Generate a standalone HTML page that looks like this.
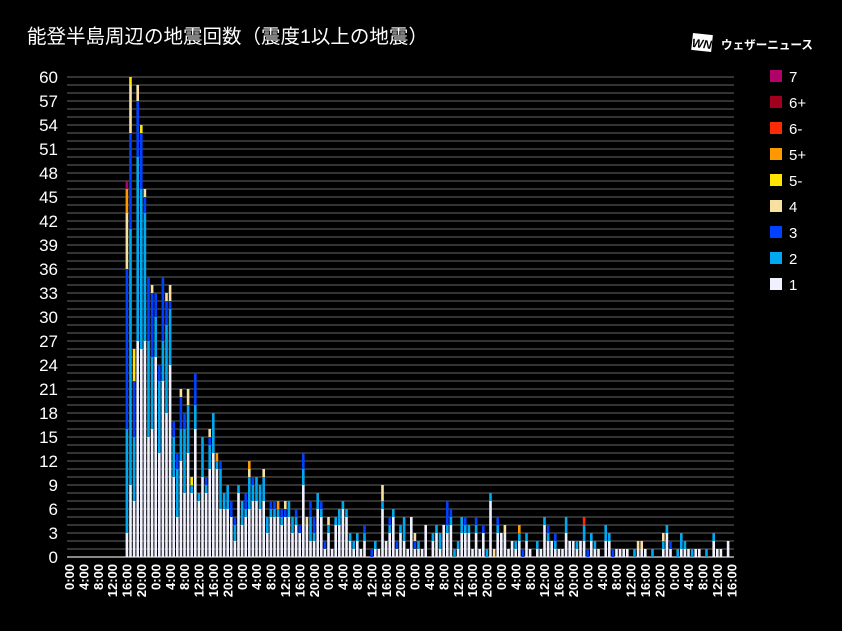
<!DOCTYPE html>
<html><head><meta charset="utf-8"><style>
html,body{margin:0;padding:0;background:#000;}
body{width:842px;height:631px;overflow:hidden;}
svg{display:block;}
</style></head><body>
<svg id="c" width="842" height="631" xmlns="http://www.w3.org/2000/svg" font-family="Liberation Sans, Noto Sans CJK JP, sans-serif">
<rect width="842" height="631" fill="#000"/>
<text x="27" y="43" fill="#fff" font-size="19.5" font-family="Liberation Sans, Noto Sans CJK JP, sans-serif">能登半島周辺の地震回数（震度1以上の地震）</text>
<g transform="translate(693,33) rotate(6)">
<rect x="0" y="0" width="20" height="17" fill="#fff"/>
<text x="10" y="14" fill="#000" font-size="12" font-weight="bold" font-style="italic" text-anchor="middle">WN</text>
</g>
<text x="721" y="49" fill="#fff" font-size="12" font-weight="bold" textLength="92" lengthAdjust="spacingAndGlyphs" font-family="Liberation Sans, Noto Sans CJK JP, sans-serif">ウェザーニュース</text>
<g id="grid"></g>
<g id="bars"></g>
<g id="ylab" fill="#fff" font-size="17" text-anchor="end"></g>
<g id="xlab" fill="#fff" font-size="13" font-weight="bold"></g>
<g id="leg" fill="#fff" font-size="15"></g>
</svg>
<script>
var NS="http://www.w3.org/2000/svg";
function el(p,t,a,txt){var e=document.createElementNS(NS,t);for(var k in a)e.setAttribute(k,a[k]);if(txt!=null)e.textContent=txt;document.getElementById(p).appendChild(e);return e;}
var Y0=557,U=8,X0=67.5,HW=3.6;
for(var v=0;v<=60;v++){el('grid','rect',{x:67,y:Y0-v*U-1,width:667,height:2,fill:v==0?'#888':'#333'});}
for(var v=0;v<=60;v+=3){el('ylab','text',{x:58,y:Y0-v*U+6},String(v));}
var hrs=['0:00','4:00','8:00','12:00','16:00','20:00'];
for(var i=0;i<=46;i++){var x=X0+i*4*HW+1.5;el('xlab','text',{transform:'translate('+(x+5)+',564) rotate(-90)','text-anchor':'end'},hrs[i%6]);}
var col={'1':'#f0f0ff','2':'#00a8f0','3':'#0040ff','4':'#f8e0a0','a':'#ffe600','b':'#ff9900','c':'#ff2a00','d':'#a0001e','e':'#b0006a'};
var keys=['1','2','3','4','a','b','c','d','e'];
function s(){var r='';for(var i=0;i<arguments.length;i++){for(var j=0;j<arguments[i];j++)r+=keys[i];}return r;}
var D={};
D[16]=s(3,13,20,7,0,3,0,0,1);D[17]=s(9,32,12,6,1);D[18]=s(7,8,7,0,4);D[19]=s(27,23,7,2);
D[20]=s(26,20,7,0,1);D[21]=s(27,16,2,1);D[22]=s(15,12,8);D[23]=s(16,9,8,1);D[24]=s(25,5,3);
D[25]=s(13,9,2);D[26]=s(22,5,8);D[27]=s(18,11,3,1);D[28]=s(24,7,1,2);D[29]=s(10,5,2);
D[30]=s(5,6,2);D[31]=s(12,4,4,1);D[32]=s(8,8,2);D[33]=s(13,6,0,2);D[34]=s(8,1,0,0,1);
D[35]=s(16,3,4);D[36]=s(7,1);D[37]=s(10,5);D[38]=s(8,1,1);D[39]=s(11,3,1,1);D[40]=s(13,5);
D[41]=s(11,1,0,0,0,1);D[42]=s(6,5,1);D[43]=s(6,2);D[44]=s(6,3);D[45]=s(5,0,2);D[46]=s(2,2,1);
D[47]=s(8,1);D[48]=s(4,3);D[49]=s(5,1,2);D[50]=s(6,4,0,1,0,1);D[51]=s(7,2,1);D[52]=s(7,3);
D[53]=s(6,3);D[54]=s(7,3,0,1);D[55]=s(3,2);D[56]=s(5,1,1);D[57]=s(5,1,1);D[58]=s(5,1,0,0,0,1);
D[59]=s(4,1,1);D[60]=s(5,0,1,1);D[61]=s(5,2);D[62]=s(3,2);D[63]=s(4,1,1);D[64]=s(3,0,1);
D[65]=s(9,2,2);D[66]=s(4,0,0,1);D[67]=s(2,3,2);D[68]=s(2,1,2);
var L={69:"11111122",70:"1111123",71:"13",72:"11124",73:"1",74:"11112",75:"111122",76:"1111112",77:"111112",78:"112",79:"12",80:"112",81:"1",82:"1123",84:"3",85:"12",86:"1",87:"111111244",88:"11",89:"11123",90:"111112",91:"13",92:"1112",93:"11222",94:"1",95:"11111",96:"134",97:"12",98:"1",99:"1111",101:"112",102:"1112",103:"122",104:"1111",105:"1112333",106:"111123",107:"2",108:"12",109:"11122",110:"11123",111:"1112",112:"1",113:"11123",114:"1",115:"1113",116:"2",117:"11111112",118:"4",119:"11123",120:"111",121:"1114",122:"1",123:"11",124:"12",125:"112b",126:"3",127:"112",128:"1",
130:"12",131:"1",132:"11112",133:"1123",134:"11",135:"123",136:"1",137:"1",138:"11122",139:"11",140:"11",141:"12",142:"11",143:"1122c",144:"3",145:"112",146:"12",147:"1",149:"1122",150:"112",151:"3",152:"1",153:"1",154:"1",155:"1",157:"2",158:"14",159:"14",160:"1",162:"2",165:"124",166:"1112",167:"13",169:"2",170:"122",171:"12",172:"1",173:"2",174:"1",175:"1",177:"2",179:"112",180:"1",181:"1",183:"11"};
for(var k in L)D[k]=L[k];
for(var h in D){var str=D[h];var x=X0+h*HW+0.5;var y=Y0;
 var i=0;while(i<str.length){var c=str[i],n=0;while(i<str.length&&str[i]==c){n++;i++;}
 el('bars','rect',{x:x,y:y-n*U,width:2.6,height:n*U,fill:col[c]});y-=n*U;}}
var lg=[['7','#b0006a'],['6+','#a0001e'],['6-','#ff2a00'],['5+','#ff9900'],['5-','#ffe600'],['4','#f8e0a0'],['3','#0040ff'],['2','#00a8f0'],['1','#f0f0ff']];
for(var i=0;i<lg.length;i++){var yy=70+i*26;el('leg','rect',{x:770,y:yy,width:12,height:12,fill:lg[i][1]});el('leg','text',{x:789,y:yy+12},lg[i][0]);}
</script>
</body></html>
